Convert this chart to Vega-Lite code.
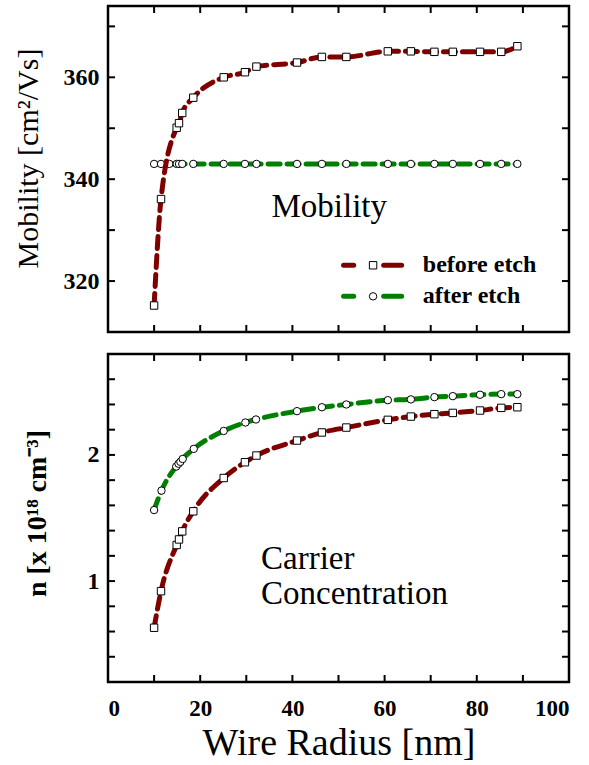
{
  "$schema": "https://vega.github.io/schema/vega-lite/v6.json",
  "background": "white",
  "padding": {"left": 11, "top": 4, "right": 5, "bottom": 0},
  "spacing": 18,
  "config": {
    "font": "Liberation Serif",
    "view": {"stroke": "#000", "strokeWidth": 2.5},
    "axis": {"domain": false, "ticks": false, "tickSize": 0, "grid": false, "labelFont": "Liberation Serif", "labelFontWeight": "bold", "labelColor": "#000", "titleColor": "#000", "titleFont": "Liberation Serif"}
  },
  "datasets": {
    "mobBefore": [
      {"r": 10, "v": 315.2}, {"r": 11.5, "v": 336.1}, {"r": 14.9, "v": 350.1}, {"r": 15.4, "v": 351.0}, {"r": 16.1, "v": 353.0}, {"r": 18.5, "v": 356.0}, {"r": 25.1, "v": 360.0}, {"r": 29.7, "v": 361.0}, {"r": 32.2, "v": 362.1}, {"r": 41, "v": 362.9}, {"r": 46.4, "v": 364.0}, {"r": 51.7, "v": 364.0}, {"r": 60.7, "v": 365.1}, {"r": 65.7, "v": 365.1}, {"r": 70.8, "v": 365.0}, {"r": 74.8, "v": 365.0}, {"r": 80.7, "v": 365.0}, {"r": 85.3, "v": 365.0}, {"r": 88.8, "v": 366.1}
    ],
    "mobAfter": [
      {"r": 10, "v": 343}, {"r": 11.5, "v": 343}, {"r": 13.3, "v": 343}, {"r": 14.9, "v": 343}, {"r": 15.4, "v": 343}, {"r": 16.1, "v": 343}, {"r": 18.5, "v": 343}, {"r": 25.1, "v": 343}, {"r": 29.7, "v": 343}, {"r": 32.2, "v": 343}, {"r": 41, "v": 343}, {"r": 46.4, "v": 343}, {"r": 51.7, "v": 343}, {"r": 60.7, "v": 343}, {"r": 65.7, "v": 343}, {"r": 70.8, "v": 343}, {"r": 74.8, "v": 343}, {"r": 80.7, "v": 343}, {"r": 85.3, "v": 343}, {"r": 88.8, "v": 343}
    ],
    "concBefore": [
      {"r": 10, "v": 0.63}, {"r": 11.5, "v": 0.92}, {"r": 14.9, "v": 1.286}, {"r": 15.4, "v": 1.33}, {"r": 16.1, "v": 1.394}, {"r": 18.5, "v": 1.553}, {"r": 25.1, "v": 1.817}, {"r": 29.7, "v": 1.942}, {"r": 32.2, "v": 1.995}, {"r": 41, "v": 2.114}, {"r": 46.4, "v": 2.178}, {"r": 51.7, "v": 2.217}, {"r": 60.7, "v": 2.278}, {"r": 65.7, "v": 2.304}, {"r": 70.8, "v": 2.323}, {"r": 74.8, "v": 2.333}, {"r": 80.7, "v": 2.352}, {"r": 85.3, "v": 2.373}, {"r": 88.8, "v": 2.378}
    ],
    "concAfter": [
      {"r": 10, "v": 1.563}, {"r": 11.6, "v": 1.717}, {"r": 14.8, "v": 1.908}, {"r": 15.3, "v": 1.93}, {"r": 15.7, "v": 1.945}, {"r": 16.2, "v": 1.968}, {"r": 18.6, "v": 2.048}, {"r": 25.1, "v": 2.19}, {"r": 29.8, "v": 2.257}, {"r": 32.1, "v": 2.281}, {"r": 41, "v": 2.347}, {"r": 46.4, "v": 2.378}, {"r": 51.7, "v": 2.4}, {"r": 60.7, "v": 2.434}, {"r": 65.7, "v": 2.44}, {"r": 70.8, "v": 2.458}, {"r": 74.8, "v": 2.466}, {"r": 80.7, "v": 2.477}, {"r": 85.3, "v": 2.482}, {"r": 88.8, "v": 2.482}
    ],
    "xTicks": [{"t": 10}, {"t": 20}, {"t": 30}, {"t": 40}, {"t": 50}, {"t": 60}, {"t": 70}, {"t": 80}, {"t": 90}],
    "mobTicks": [{"t": 320}, {"t": 330}, {"t": 340}, {"t": 350}, {"t": 360}, {"t": 370}],
    "concTicks": [{"t": 0.4}, {"t": 0.6}, {"t": 0.8}, {"t": 1.0}, {"t": 1.2}, {"t": 1.4}, {"t": 1.6}, {"t": 1.8}, {"t": 2.0}, {"t": 2.2}, {"t": 2.4}, {"t": 2.6}]
  },
  "vconcat": [
    {
      "width": 461,
      "height": 326,
      "layer": [
        {
          "data": {"name": "mobAfter"},
          "mark": {"type": "line", "color": "#008000", "strokeWidth": 5, "strokeDash": [12, 7], "strokeCap": "round", "interpolate": "monotone"},
          "encoding": {
            "x": {"field": "r", "type": "quantitative", "scale": {"domain": [0, 100], "nice": false}, "axis": {"orient": "bottom", "values": [0, 20, 40, 60, 80, 100], "labels": false, "title": null}},
            "y": {"field": "v", "type": "quantitative", "scale": {"domain": [310, 374], "nice": false, "zero": false}, "axis": {"orient": "left", "values": [320, 340, 360], "labelFontSize": 24, "labelPadding": 9, "title": "Mobility [cm²/Vs]", "titleFontSize": 30, "titleFontWeight": "normal", "titlePadding": 20, "titleY": 152}}
          }
        },
        {
          "data": {"name": "xTicks"},
          "mark": {"type": "tick", "orient": "vertical", "size": 14, "thickness": 2, "color": "#000", "opacity": 1, "clip": true},
          "encoding": {"x": {"field": "t", "type": "quantitative"}, "y": {"datum": 310, "type": "quantitative"}}
        },
        {
          "data": {"name": "xTicks"},
          "mark": {"type": "tick", "orient": "vertical", "size": 14, "thickness": 2, "color": "#000", "opacity": 1, "clip": true},
          "encoding": {"x": {"field": "t", "type": "quantitative"}, "y": {"datum": 374, "type": "quantitative"}}
        },
        {
          "data": {"name": "mobTicks"},
          "mark": {"type": "tick", "orient": "horizontal", "size": 14, "thickness": 2, "color": "#000", "opacity": 1, "clip": true},
          "encoding": {"y": {"field": "t", "type": "quantitative"}, "x": {"datum": 0, "type": "quantitative"}}
        },
        {
          "data": {"name": "mobTicks"},
          "mark": {"type": "tick", "orient": "horizontal", "size": 14, "thickness": 2, "color": "#000", "opacity": 1, "clip": true},
          "encoding": {"y": {"field": "t", "type": "quantitative"}, "x": {"datum": 100, "type": "quantitative"}}
        },
        {
          "data": {"name": "mobAfter"},
          "mark": {"type": "point", "shape": "circle", "filled": true, "fill": "white", "stroke": "#000", "strokeWidth": 1, "size": 55, "opacity": 1},
          "encoding": {
            "x": {"field": "r", "type": "quantitative"},
            "y": {"field": "v", "type": "quantitative"}
          }
        },
        {
          "data": {"name": "mobBefore"},
          "mark": {"type": "line", "color": "#800000", "strokeWidth": 5, "strokeDash": [12, 7], "strokeCap": "round", "interpolate": "monotone"},
          "encoding": {
            "x": {"field": "r", "type": "quantitative"},
            "y": {"field": "v", "type": "quantitative"}
          }
        },
        {
          "data": {"name": "mobBefore"},
          "mark": {"type": "point", "shape": "square", "filled": true, "fill": "white", "stroke": "#000", "strokeWidth": 1, "size": 55, "opacity": 1},
          "encoding": {
            "x": {"field": "r", "type": "quantitative"},
            "y": {"field": "v", "type": "quantitative"}
          }
        },
        {
          "data": {"values": [{"r": 48, "v": 332.5, "t": "Mobility"}]},
          "mark": {"type": "text", "fontSize": 33, "font": "Liberation Serif", "align": "center", "baseline": "alphabetic", "color": "#000"},
          "encoding": {
            "x": {"field": "r", "type": "quantitative"},
            "y": {"field": "v", "type": "quantitative"},
            "text": {"field": "t"}
          }
        },
        {
          "data": {"values": [{"r": 51.1, "r2": 53.3, "v": 323.1}, {"r": 59.8, "r2": 63.7, "v": 323.1}]},
          "mark": {"type": "rule", "color": "#800000", "strokeWidth": 5, "strokeCap": "round"},
          "encoding": {
            "x": {"field": "r", "type": "quantitative"},
            "x2": {"field": "r2"},
            "y": {"field": "v", "type": "quantitative"}
          }
        },
        {
          "data": {"values": [{"r": 51.1, "r2": 53.3, "v": 317.0}, {"r": 59.8, "r2": 63.7, "v": 317.0}]},
          "mark": {"type": "rule", "color": "#008000", "strokeWidth": 5, "strokeCap": "round"},
          "encoding": {
            "x": {"field": "r", "type": "quantitative"},
            "x2": {"field": "r2"},
            "y": {"field": "v", "type": "quantitative"}
          }
        },
        {
          "data": {"values": [{"r": 57.5, "v": 323.1}]},
          "mark": {"type": "point", "shape": "square", "filled": true, "fill": "white", "stroke": "#000", "strokeWidth": 1, "size": 55, "opacity": 1},
          "encoding": {
            "x": {"field": "r", "type": "quantitative"},
            "y": {"field": "v", "type": "quantitative"}
          }
        },
        {
          "data": {"values": [{"r": 57.5, "v": 317.0}]},
          "mark": {"type": "point", "shape": "circle", "filled": true, "fill": "white", "stroke": "#000", "strokeWidth": 1, "size": 55, "opacity": 1},
          "encoding": {
            "x": {"field": "r", "type": "quantitative"},
            "y": {"field": "v", "type": "quantitative"}
          }
        },
        {
          "data": {"values": [{"r": 68.3, "v": 321.75, "t": "before etch"}, {"r": 68.3, "v": 315.6, "t": "after etch"}]},
          "mark": {"type": "text", "fontSize": 24, "font": "Liberation Serif", "fontWeight": "bold", "align": "left", "baseline": "alphabetic", "color": "#000"},
          "encoding": {
            "x": {"field": "r", "type": "quantitative"},
            "y": {"field": "v", "type": "quantitative"},
            "text": {"field": "t"}
          }
        }
      ]
    },
    {
      "width": 461,
      "height": 328,
      "layer": [
        {
          "data": {"name": "concAfter"},
          "mark": {"type": "line", "color": "#008000", "strokeWidth": 5, "strokeDash": [12, 7], "strokeCap": "round", "interpolate": "monotone"},
          "encoding": {
            "x": {"field": "r", "type": "quantitative", "scale": {"domain": [0, 100], "nice": false}, "axis": {"orient": "bottom", "values": [0, 20, 40, 60, 80, 100], "labelFontSize": 23, "labelPadding": 15, "title": "Wire Radius [nm]", "titleFontSize": 38, "titleFontWeight": "normal", "titlePadding": 4}},
            "y": {"field": "v", "type": "quantitative", "scale": {"domain": [0.2, 2.8], "nice": false, "zero": false}, "axis": {"orient": "left", "values": [1, 2], "format": "d", "labelFontSize": 24, "labelPadding": 9, "title": "n  [x 10¹⁸ cm⁻³]", "titleFontSize": 28, "titleFontWeight": "bold", "titlePadding": 36, "titleY": 159}}
          }
        },
        {
          "data": {"name": "xTicks"},
          "mark": {"type": "tick", "orient": "vertical", "size": 14, "thickness": 2, "color": "#000", "opacity": 1, "clip": true},
          "encoding": {"x": {"field": "t", "type": "quantitative"}, "y": {"datum": 0.2, "type": "quantitative"}}
        },
        {
          "data": {"name": "xTicks"},
          "mark": {"type": "tick", "orient": "vertical", "size": 14, "thickness": 2, "color": "#000", "opacity": 1, "clip": true},
          "encoding": {"x": {"field": "t", "type": "quantitative"}, "y": {"datum": 2.8, "type": "quantitative"}}
        },
        {
          "data": {"name": "concTicks"},
          "mark": {"type": "tick", "orient": "horizontal", "size": 14, "thickness": 2, "color": "#000", "opacity": 1, "clip": true},
          "encoding": {"y": {"field": "t", "type": "quantitative"}, "x": {"datum": 0, "type": "quantitative"}}
        },
        {
          "data": {"name": "concTicks"},
          "mark": {"type": "tick", "orient": "horizontal", "size": 14, "thickness": 2, "color": "#000", "opacity": 1, "clip": true},
          "encoding": {"y": {"field": "t", "type": "quantitative"}, "x": {"datum": 100, "type": "quantitative"}}
        },
        {
          "data": {"name": "concAfter"},
          "mark": {"type": "point", "shape": "circle", "filled": true, "fill": "white", "stroke": "#000", "strokeWidth": 1, "size": 55, "opacity": 1},
          "encoding": {
            "x": {"field": "r", "type": "quantitative"},
            "y": {"field": "v", "type": "quantitative"}
          }
        },
        {
          "data": {"name": "concBefore"},
          "mark": {"type": "line", "color": "#800000", "strokeWidth": 5, "strokeDash": [12, 7], "strokeCap": "round", "interpolate": "monotone"},
          "encoding": {
            "x": {"field": "r", "type": "quantitative"},
            "y": {"field": "v", "type": "quantitative"}
          }
        },
        {
          "data": {"name": "concBefore"},
          "mark": {"type": "point", "shape": "square", "filled": true, "fill": "white", "stroke": "#000", "strokeWidth": 1, "size": 55, "opacity": 1},
          "encoding": {
            "x": {"field": "r", "type": "quantitative"},
            "y": {"field": "v", "type": "quantitative"}
          }
        },
        {
          "data": {"values": [{"r": 33.2, "v": 1.095, "t": "Carrier"}, {"r": 33.2, "v": 0.817, "t": "Concentration"}]},
          "mark": {"type": "text", "fontSize": 33, "font": "Liberation Serif", "align": "left", "baseline": "alphabetic", "color": "#000"},
          "encoding": {
            "x": {"field": "r", "type": "quantitative"},
            "y": {"field": "v", "type": "quantitative"},
            "text": {"field": "t"}
          }
        }
      ]
    }
  ]
}
